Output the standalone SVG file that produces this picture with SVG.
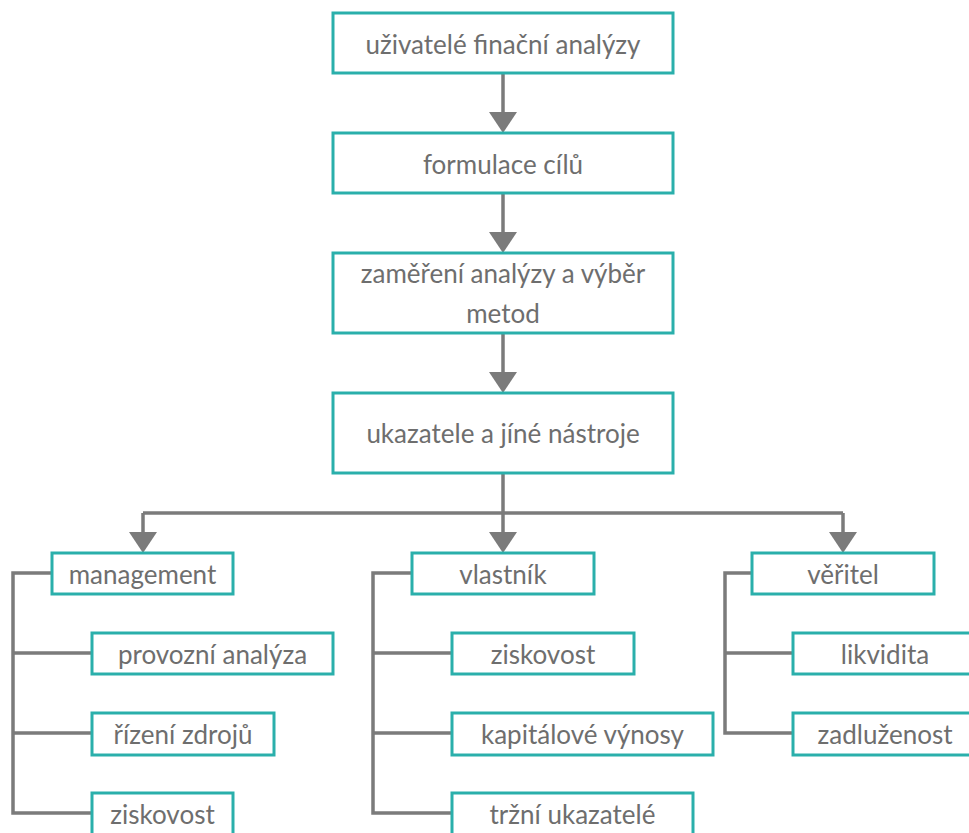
<svg xmlns="http://www.w3.org/2000/svg" width="969" height="833" viewBox="0 0 969 833">
<style>
.box{fill:#fff;stroke:#2aafab;stroke-width:3}
.t{font-family:Lato,"Open Sans","Liberation Sans",sans-serif;font-size:26px;fill:#6e6e6e;text-anchor:middle}
.c{fill:none;stroke:#7b7b7b;stroke-width:3.5}
</style>
<defs>
<marker id="ah" markerUnits="userSpaceOnUse" markerWidth="22" markerHeight="28" refX="0" refY="14" orient="auto" viewBox="0 0 22 28">
<path d="M0,0 L21,14 L0,28 z" fill="#7b7b7b"/>
</marker>
</defs>
<rect width="969" height="833" fill="#fff"/>
<g id="connectors">
<path class="c" d="M503,73 V112" marker-end="url(#ah)"/>
<path class="c" d="M503,193 V232" marker-end="url(#ah)"/>
<path class="c" d="M503,333 V372" marker-end="url(#ah)"/>
<path class="c" d="M503,473 V513"/>
<path class="c" d="M143,513 H843"/>
<path class="c" d="M143,513 V532" marker-end="url(#ah)"/>
<path class="c" d="M503,513 V532" marker-end="url(#ah)"/>
<path class="c" d="M843,513 V532" marker-end="url(#ah)"/>
<path class="c" d="M52,573 H13 V813 H92 M13,653 H92 M13,733 H92"/>
<path class="c" d="M412,573 H373 V813 H452 M373,653 H452 M373,733 H452"/>
<path class="c" d="M752,573 H725 V733 H793 M725,653 H793"/>
</g>
<g id="n1"><rect class="box" x="333" y="13" width="340" height="60"/><text class="t" x="503" y="54">uživatelé finační analýzy</text></g>
<g id="n2"><rect class="box" x="333" y="133" width="340" height="60"/><text class="t" x="503" y="174">formulace cílů</text></g>
<g id="n3"><rect class="box" x="333" y="253" width="340" height="80"/><text class="t" x="503" y="283">zaměření analýzy a výběr</text><text class="t" x="503" y="323">metod</text></g>
<g id="n4"><rect class="box" x="333" y="393" width="340" height="80"/><text class="t" x="503" y="443">ukazatele a jíné nástroje</text></g>
<g id="management"><rect class="box" x="52" y="553" width="181" height="41"/><text class="t" x="142.5" y="584">management</text></g>
<g id="m1"><rect class="box" x="92" y="633" width="241" height="41"/><text class="t" x="212.5" y="664">provozní analýza</text></g>
<g id="m2"><rect class="box" x="92" y="713" width="182" height="42"/><text class="t" x="183" y="744">řízení zdrojů</text></g>
<g id="m3"><rect class="box" x="92" y="793" width="141" height="50"/><text class="t" x="162.5" y="824">ziskovost</text></g>
<g id="vlastnik"><rect class="box" x="412" y="553" width="182" height="41"/><text class="t" x="503" y="584">vlastník</text></g>
<g id="v1"><rect class="box" x="452" y="633" width="182" height="41"/><text class="t" x="543" y="664">ziskovost</text></g>
<g id="v2"><rect class="box" x="452" y="713" width="261" height="42"/><text class="t" x="582.5" y="744">kapitálové výnosy</text></g>
<g id="v3"><rect class="box" x="452" y="793" width="241" height="50"/><text class="t" x="572.5" y="824">tržní ukazatelé</text></g>
<g id="veritel"><rect class="box" x="752" y="553" width="182" height="41"/><text class="t" x="843" y="584">věřitel</text></g>
<g id="r1"><rect class="box" x="793" y="633" width="184" height="41"/><text class="t" x="885" y="664">likvidita</text></g>
<g id="r2"><rect class="box" x="793" y="713" width="184" height="42"/><text class="t" x="885" y="744">zadluženost</text></g>
</svg>
